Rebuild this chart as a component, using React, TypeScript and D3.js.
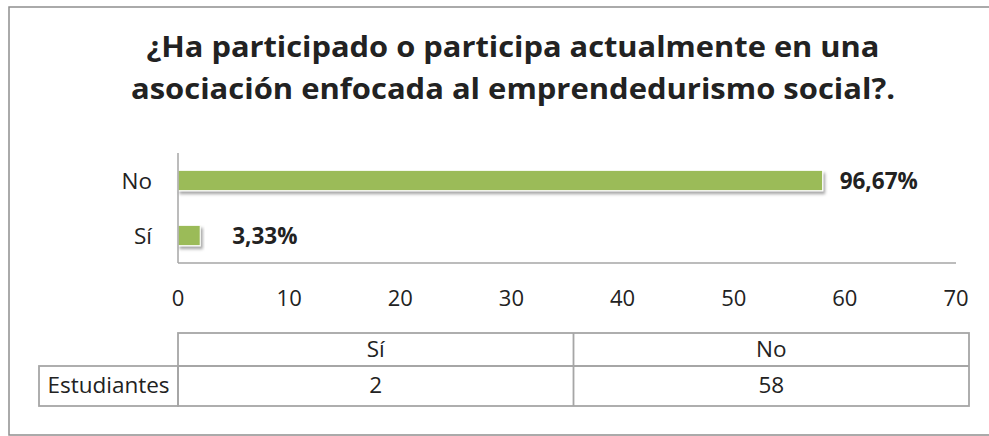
import React from 'react';
import * as d3 from 'd3';

// data
const categories = ['Sí', 'No'];
const counts = [2, 58];
const percentLabels = ['3,33%', '96,67%'];
const xTicks = [0, 10, 20, 30, 40, 50, 60, 70];
const titleLines = [
    '¿Ha participado o participa actualmente en una',
    'asociación enfocada al emprendedurismo social?.',
];
const tableRowLabel = 'Estudiantes';

const width = 989;
const height = 436;
const font = '"Open Sans", Calibri, sans-serif';
const textColor = '#222';
const lineColor = '#a6a6a6';
const barColor = '#9bbb59';

// label gaps after each bar end (same order as categories)
const labelGap = [32, 17];
// measured title widths
const titleWidths = [733, 764];

const App = () => {
    const plot = { left: 178, right: 956, top: 153, bottom: 263 };

    const x = d3.scaleLinear()
        .domain([0, 70])
        .range([plot.left, plot.right]);

    const y = d3.scaleBand()
        .domain(categories.slice().reverse())
        .range([plot.top, plot.bottom])
        .paddingInner(0.63)
        .paddingOuter(0.315);

    const table = { left: 39, top: 333, mid: 366, bottom: 406, right: 969 };
    const col = d3.scaleBand()
        .domain(categories)
        .range([plot.left, table.right]);

    return (
        <svg width={width} height={height} style={{ position: 'absolute', left: 0, top: 0 }}>
            <defs>
                <filter id="shadow" x="-10%" y="-30%" width="130%" height="180%">
                    <feDropShadow dx="2" dy="3" stdDeviation="1.8" floodColor="#000" floodOpacity="0.35" />
                </filter>
            </defs>
            <rect x={0} y={0} width={width} height={height} fill="#fff" />
            <rect x={9} y={7} width={990} height={428} fill="none" stroke="#8e8e8e" strokeWidth={1.5} />

            {/* title */}
            {titleLines.map((t, i) => (
                <text key={i} x={513} y={57 + i * 42} textAnchor="middle" fontFamily={font}
                    fontWeight="bold" fontSize={28} fill={textColor}
                    textLength={titleWidths[i]} lengthAdjust="spacingAndGlyphs">{t}</text>
            ))}

            {/* bars */}
            <g>
                {categories.map((c, i) => (
                    <rect key={c} x={x(0)} y={y(c)} width={x(counts[i]) - x(0)} height={y.bandwidth()}
                        fill={barColor} stroke="#fff" strokeWidth={1} filter="url(#shadow)" />
                ))}
            </g>

            {/* data labels */}
            {categories.map((c, i) => (
                <text key={c} x={x(counts[i]) + labelGap[i]} y={y(c) + y.bandwidth() / 2 + 8.5}
                    fontFamily={font} fontWeight="bold" fontSize={22.5} fill={textColor}>{percentLabels[i]}</text>
            ))}

            {/* axes */}
            <line x1={plot.left} x2={plot.left} y1={plot.top} y2={plot.bottom} stroke={lineColor} strokeWidth={1.5} />
            <line x1={plot.left} x2={plot.right} y1={plot.bottom} y2={plot.bottom} stroke={lineColor} strokeWidth={1.5} />

            {/* category labels */}
            {categories.map(c => (
                <text key={c} x={152} y={y(c) + y.bandwidth() / 2 + 8} textAnchor="end"
                    fontFamily={font} fontSize={22.5} fill={textColor}>{c}</text>
            ))}

            {/* x tick labels */}
            {xTicks.map(t => (
                <text key={t} x={x(t)} y={306} textAnchor="middle" fontFamily={font}
                    fontSize={22} fill={textColor}>{t}</text>
            ))}

            {/* data table */}
            <g stroke={lineColor} strokeWidth={1.8} fill="none">
                <rect x={plot.left} y={table.top} width={table.right - plot.left} height={table.bottom - table.top} />
                <rect x={table.left} y={table.mid} width={plot.left - table.left} height={table.bottom - table.mid} />
                <line x1={plot.left} x2={table.right} y1={table.mid} y2={table.mid} />
                {categories.slice(1).map(c => (
                    <line key={c} x1={col(c)} x2={col(c)} y1={table.top} y2={table.bottom} />
                ))}
            </g>
            {categories.map((c, i) => (
                <g key={c}>
                    <text x={col(c) + col.bandwidth() / 2} y={357} textAnchor="middle" fontFamily={font}
                        fontSize={22.5} fill={textColor}>{c}</text>
                    <text x={col(c) + col.bandwidth() / 2} y={393} textAnchor="middle" fontFamily={font}
                        fontSize={22.5} fill={textColor}>{counts[i]}</text>
                </g>
            ))}
            <text x={(table.left + plot.left) / 2} y={393} textAnchor="middle" fontFamily={font}
                fontSize={22.5} fill={textColor}>{tableRowLabel}</text>
        </svg>
    );
};

export default App;
